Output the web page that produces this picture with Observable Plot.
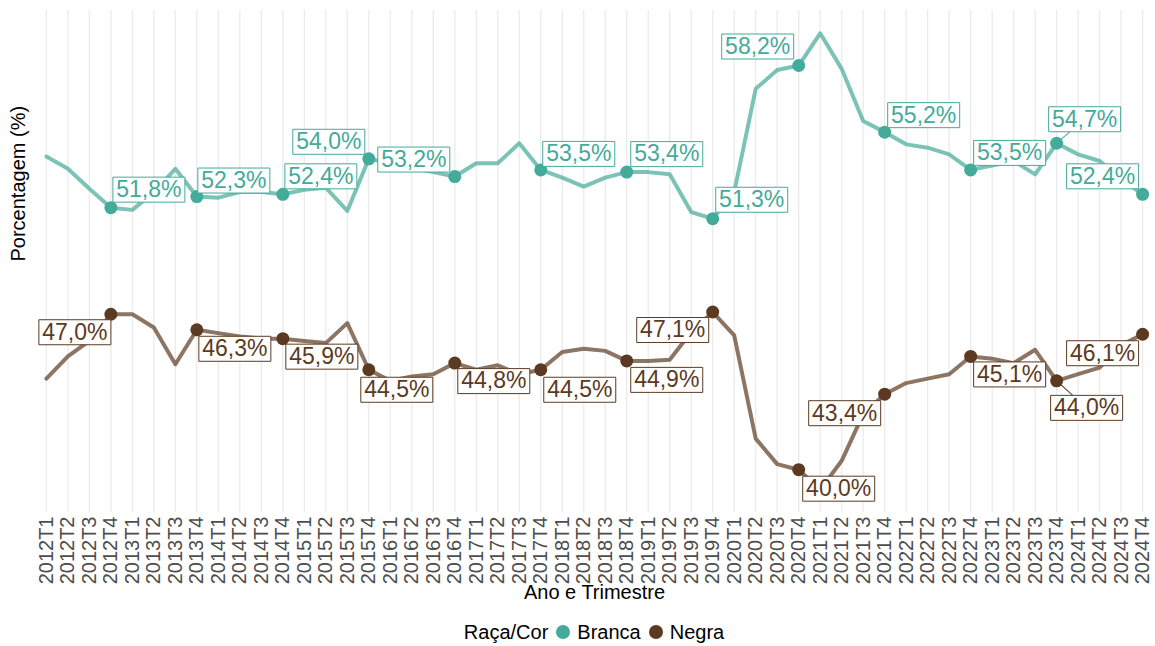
<!DOCTYPE html>
<html><head><meta charset="utf-8">
<script src="https://cdn.jsdelivr.net/npm/d3@7"></script>
<script src="https://cdn.jsdelivr.net/npm/@observablehq/plot@0.6"></script>
<style>
body{margin:0;background:#fff;font-family:"Liberation Sans",Arial,Helvetica,sans-serif;}
#legend{display:flex;justify-content:center;align-items:center;font-size:20px;color:#000;height:28px;margin-top:5px;padding-left:33px;}
.sw{width:14px;height:14px;border-radius:50%;display:inline-block;margin:0 7px 0 8px;}
</style></head><body><div id="chart"></div><div id="legend"></div><script>
const quarters = ["2012T1","2012T2","2012T3","2012T4","2013T1","2013T2","2013T3","2013T4","2014T1","2014T2","2014T3","2014T4","2015T1","2015T2","2015T3","2015T4","2016T1","2016T2","2016T3","2016T4","2017T1","2017T2","2017T3","2017T4","2018T1","2018T2","2018T3","2018T4","2019T1","2019T2","2019T3","2019T4","2020T1","2020T2","2020T3","2020T4","2021T1","2021T2","2021T3","2021T4","2022T1","2022T2","2022T3","2022T4","2023T1","2023T2","2023T3","2023T4","2024T1","2024T2","2024T3","2024T4"];
const branca = [54.1,53.55,52.65,51.8, 51.7,52.5,53.55,52.3, 52.25,52.5,52.5,52.4, 52.6,52.7,51.65,54.0, 53.8,53.6,53.4,53.2, 53.8,53.8,54.7,53.5, 53.15,52.75,53.15,53.4, 53.4,53.3,51.6,51.3, 52.5,57.15,58.0,58.2, 59.65,58.05,55.7,55.2, 54.65,54.5,54.2,53.5, 53.7,53.9,53.3,54.7, 54.2,53.9,53.1,52.4];
const negra = [44.1,45.1,45.8,47.0, 47.0,46.4,44.75,46.3, 46.15,46.0,45.9,45.9, 45.8,45.7,46.6,44.5, 44.0,44.2,44.3,44.8, 44.5,44.7,44.3,44.5, 45.3,45.45,45.35,44.9, 44.9,44.95,46.2,47.1, 46.05,41.4,40.25,40.0, 39.1,40.4,42.5,43.4, 43.9,44.1,44.3,45.1, 45.0,44.8,45.4,44.0, 44.3,44.6,45.6,46.1];
const series = ["Branca","Negra"];
const colors = ["#44AA99","#5C3A21"];
const legendTitle = "Raça/Cor";
const xTitle = "Ano e Trimestre";
const yTitle = "Porcentagem (%)";

// label placement (pixel nudges of each T4 label box from its point), like ggrepel output
const labelNudge = {
  Branca: [[38,-18],[37,-16],[38,-18],[-40,-17],[-41,-17],[38,-16],[40,-18],[39,-19],[-41,-19],[39,-17],[39,-17],[28,-24],[-40,-18]],
  Negra:  [[-36,18],[38,19],[39,18],[28,20],[39,18],[39,20],[40,19],[-40,18],[40,19],[-40,19],[39,18],[30,27],[-40,19]]
};
const leaderQuarters = ["2023T4"];

const rows = [
  ...quarters.map((q,i)=>({q, serie:"Branca", v:branca[i]})),
  ...quarters.map((q,i)=>({q, serie:"Negra", v:negra[i]}))
];
const t4q = quarters.filter(q=>q.endsWith("T4"));
const t4 = rows.filter(d=>d.q.endsWith("T4")).map(d=>{
  const [dx,dy] = labelNudge[d.serie][t4q.indexOf(d.q)];
  return {...d, dx, dy, lead: leaderQuarters.includes(d.q)};
});
const fmt = v => d3.format(".1f")(v).replace(".", ",") + "%";
const colorOf = s => colors[series.indexOf(s)];
const vals = rows.map(d=>d.v);
const lo = d3.min(vals), hi = d3.max(vals), pad = (hi-lo)*0.05;

const boxSym = {draw(ctx){ ctx.rect(-36,-12.5,72,25); }};
const lineShape = {draw(ctx,l){ ctx.moveTo(0,0); ctx.lineTo(0,-l); }};

const chart = Plot.plot({
  width: 1155, height: 613,
  marginTop: 10, marginBottom: 101, marginLeft: 33, marginRight: 0,
  style: {fontFamily: "Liberation Sans, Arial, Helvetica, sans-serif", background: "white", color: "#000"},
  x: {type: "point", domain: quarters, padding: 0.6, round: false},
  y: {domain: [lo-pad, hi+pad], axis: null},
  color: {domain: series, range: colors},
  marks: [
    Plot.gridX(quarters, {stroke: "#ebebeb", strokeOpacity: 1, strokeWidth: 1.3}),
    Plot.axisX({tickRotate: -90, tickSize: 0, tickPadding: 4, fontSize: 20, fill: "#4d4d4d", label: null}),
    Plot.text([yTitle], {frameAnchor: "left", rotate: -90, dx: -15, fontSize: 20, fill: "#000"}),
    Plot.text([xTitle], {frameAnchor: "bottom", dy: 86, fontSize: 20, fill: "#000"}),
    Plot.line(rows, {x: "q", y: "v", z: "serie", stroke: "serie", strokeWidth: 4, strokeOpacity: 0.7}),
    ...t4.filter(d=>d.lead).map(d => Plot.vector([d], {x: "q", y: "v", length: Math.hypot(d.dx,d.dy), rotate: Math.atan2(d.dx,-d.dy)*180/Math.PI, anchor: "start", shape: lineShape, stroke: colorOf(d.serie), strokeWidth: 1})),
    Plot.dot(t4, {x: "q", y: "v", fill: "serie", r: 6.5}),
    ...t4.map(d => Plot.dot([d], {x: "q", y: "v", symbol: boxSym, dx: d.dx, dy: d.dy, fill: "white", stroke: colorOf(d.serie), strokeWidth: 1})),
    ...t4.map(d => Plot.text([d], {x: "q", y: "v", text: e => fmt(e.v), dx: d.dx, dy: d.dy, fill: colorOf(d.serie), fontSize: 23, lineAnchor: "middle"}))
  ]
});
document.getElementById("chart").appendChild(chart);

const lg = document.getElementById("legend");
const t = document.createElement("span"); t.textContent = legendTitle; lg.appendChild(t);
series.forEach((s,i)=>{
  const sw = document.createElement("span"); sw.className = "sw"; sw.style.background = colors[i]; lg.appendChild(sw);
  const l = document.createElement("span"); l.textContent = s; lg.appendChild(l);
});
</script></body></html>
